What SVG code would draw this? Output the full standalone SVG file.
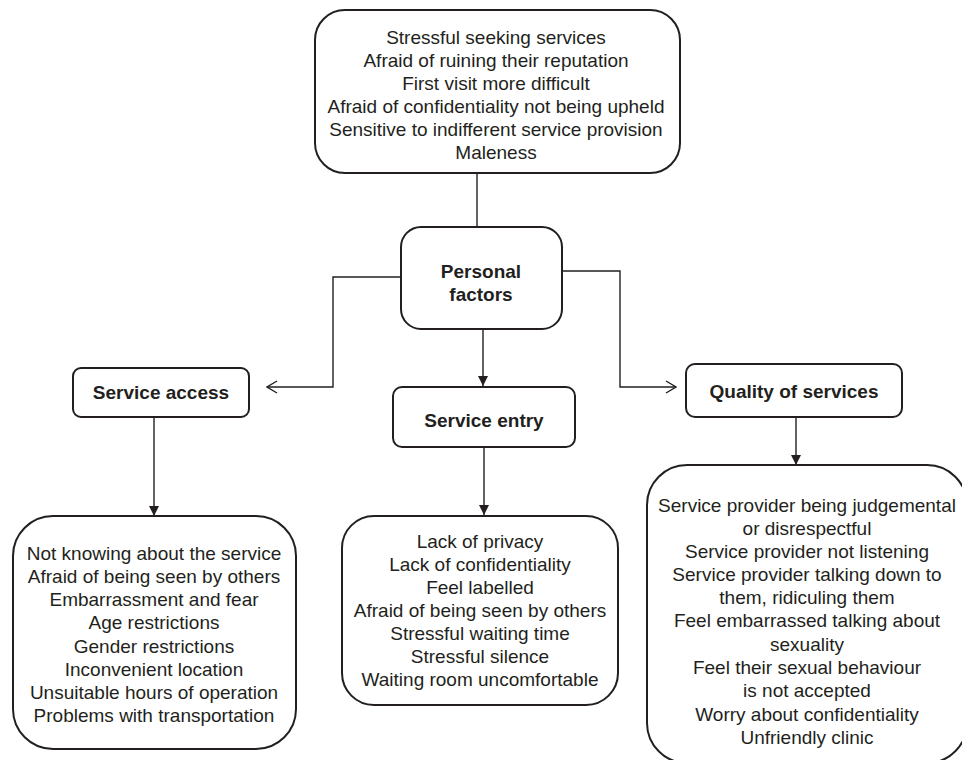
<svg xmlns="http://www.w3.org/2000/svg" width="962" height="760" viewBox="0 0 962 760">
<style>
.box{fill:#fff;stroke:#231f20;stroke-width:2}
.t{font-family:"Liberation Sans",Arial,sans-serif;font-size:19px;fill:#231f20;text-anchor:middle;dominant-baseline:central}
.b{font-weight:bold}
.c{fill:none;stroke:#231f20;stroke-width:1.4}
</style>
<defs>
<marker id="fill" viewBox="0 0 10 10" refX="10" refY="5" markerWidth="10" markerHeight="10" markerUnits="userSpaceOnUse" orient="auto">
<path d="M0,0 L10,5 L0,10 Z" fill="#231f20"/>
</marker>
<marker id="open" viewBox="0 0 12 14" refX="11" refY="7" markerWidth="12" markerHeight="14" markerUnits="userSpaceOnUse" orient="auto">
<path d="M1,1 L11,7 L1,13" fill="none" stroke="#231f20" stroke-width="1.4"/>
</marker>
</defs>
<rect width="962" height="760" fill="#fff"/>
<g id="connectors">
<path class="c" d="M477,173 V228" stroke-width="2"/>
<path class="c" d="M401,277 H333 V387 H267" marker-end="url(#open)"/>
<path class="c" d="M562,271 H620 V387 H676" marker-end="url(#open)"/>
<path class="c" d="M483,329 V386" marker-end="url(#fill)"/>
<path class="c" d="M154,417 V516" marker-end="url(#fill)"/>
<path class="c" d="M484,447 V515" marker-end="url(#fill)"/>
<path class="c" d="M796,417 V465" marker-end="url(#fill)"/>
</g>
<g id="top">
<rect class="box" x="315" y="10" width="365" height="163" rx="30"/>
<text class="t" x="496" y="37">Stressful seeking services</text>
<text class="t" x="496" y="60">Afraid of ruining their reputation</text>
<text class="t" x="496" y="83">First visit more difficult</text>
<text class="t" x="496" y="106">Afraid of confidentiality not being upheld</text>
<text class="t" x="496" y="129">Sensitive to indifferent service provision</text>
<text class="t" x="496" y="152">Maleness</text>
</g>
<g id="personal">
<rect class="box" x="401" y="227" width="161" height="102" rx="20"/>
<text class="t b" x="481" y="271">Personal</text>
<text class="t b" x="481" y="294">factors</text>
</g>
<g id="access">
<rect class="box" x="73" y="368" width="176" height="49" rx="8"/>
<text class="t b" x="161" y="392">Service access</text>
</g>
<g id="entry">
<rect class="box" x="393" y="387" width="182" height="60" rx="9"/>
<text class="t b" x="484" y="420">Service entry</text>
</g>
<g id="quality">
<rect class="box" x="686" y="364" width="216" height="53" rx="9"/>
<text class="t b" x="794" y="391">Quality of services</text>
</g>
<g id="accessList">
<rect class="box" x="13" y="516" width="283" height="233" rx="40"/>
<text class="t" x="154" y="553">Not knowing about the service</text>
<text class="t" x="154" y="576">Afraid of being seen by others</text>
<text class="t" x="154" y="599">Embarrassment and fear</text>
<text class="t" x="154" y="622">Age restrictions</text>
<text class="t" x="154" y="646">Gender restrictions</text>
<text class="t" x="154" y="669">Inconvenient location</text>
<text class="t" x="154" y="692">Unsuitable hours of operation</text>
<text class="t" x="154" y="715">Problems with transportation</text>
</g>
<g id="entryList">
<rect class="box" x="342" y="516" width="276" height="189" rx="32"/>
<text class="t" x="480" y="541">Lack of privacy</text>
<text class="t" x="480" y="564">Lack of confidentiality</text>
<text class="t" x="480" y="587">Feel labelled</text>
<text class="t" x="480" y="610">Afraid of being seen by others</text>
<text class="t" x="480" y="633">Stressful waiting time</text>
<text class="t" x="480" y="656">Stressful silence</text>
<text class="t" x="480" y="679">Waiting room uncomfortable</text>
</g>
<g id="qualityList">
<rect class="box" x="647" y="465" width="320" height="298" rx="40"/>
<text class="t" x="807" y="505">Service provider being judgemental</text>
<text class="t" x="807" y="528">or disrespectful</text>
<text class="t" x="807" y="551">Service provider not listening</text>
<text class="t" x="807" y="574">Service provider talking down to</text>
<text class="t" x="807" y="597">them, ridiculing them</text>
<text class="t" x="807" y="620">Feel embarrassed talking about</text>
<text class="t" x="807" y="644">sexuality</text>
<text class="t" x="807" y="667">Feel their sexual behaviour</text>
<text class="t" x="807" y="690">is not accepted</text>
<text class="t" x="807" y="714">Worry about confidentiality</text>
<text class="t" x="807" y="737">Unfriendly clinic</text>
</g>
</svg>
